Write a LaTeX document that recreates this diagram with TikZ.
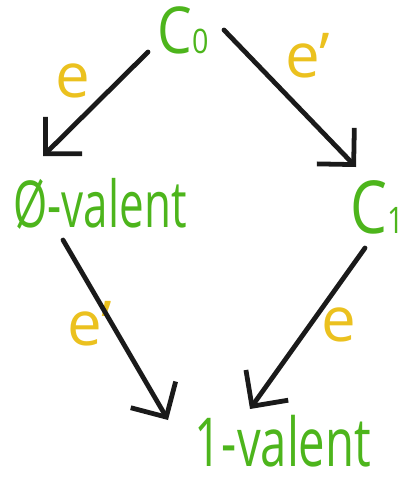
\documentclass[tikz,border=0pt]{standalone}
\usepackage{fontspec}
\setmainfont{Open Sans}
\usetikzlibrary{arrows.meta}
\definecolor{leafgreen}{HTML}{4DB51C}
\definecolor{chalkyellow}{HTML}{EBC11F}
\definecolor{inkblack}{HTML}{1A1A1A}

\begin{document}
\begin{tikzpicture}[x=0.025cm,y=-0.025cm,
 state/.style={text=leafgreen,inner sep=0pt,transform shape,font=\fontsize{46}{46}\selectfont},
 lab/.style={text=chalkyellow,inner sep=0pt,font=\fontsize{44}{44}\selectfont},
 arr/.style={-{Straight Barb[length=6.5mm,width=13mm]},line width=3.4pt,draw=inkblack,line cap=round}]
 \useasboundingbox (0,0) rectangle (398,482);
 % states
 \node[state,xscale=0.85] (c0) at (183,30) {C{\fontsize{24}{24}\selectfont 0}};
 \node[state,xscale=0.68] (zero) at (100,204) {Ø-valent};
 \node[state,xscale=0.8,anchor=west,font=\fontsize{52}{52}\selectfont] (c1) at (350,207) {C{\fontsize{26}{26}\selectfont 1}};
 \node[state,xscale=0.7,font=\fontsize{48}{48}\selectfont,text depth=0pt,anchor=base] (one) at (283,466) {1-valent};
 % edge labels
 \node[lab] (e0) at (73,81) {e};
 \node[lab] (e1) at (308,56) {e’};
 \node[lab] (e2) at (90,324) {e’};
 \node[lab] (e3) at (339,325) {e};
 % transitions
 \draw[arr] ([shift={(-35,22)}]c0.center) -- ([shift={(-57,-48)}]zero.center);
 \draw[arr] ([shift={(41,0)}]c0.center) -- ([shift={(6,-40)}]c1.west);
 \draw[arr] ([shift={(-37,36)}]zero.center) -- ([shift={(-115,-46)}]one.base);
 \draw[arr] ([shift={(15,41)}]c1.west) -- ([shift={(-33,-57)}]one.base);
\end{tikzpicture}
\end{document}
